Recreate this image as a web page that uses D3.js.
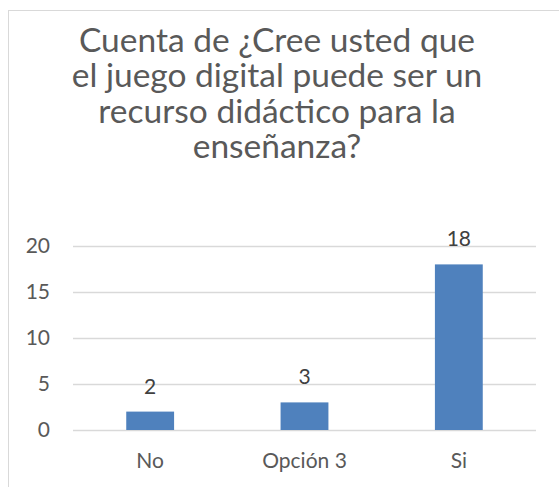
<!DOCTYPE html>
<html>
<head>
<meta charset="utf-8">
<script src="https://cdn.jsdelivr.net/npm/d3@7"></script>
<style>
  body { margin: 0; background: #fff; }
  text { font-family: "Lato", "Open Sans", sans-serif; }
</style>
</head>
<body>
<div id="chart"></div>
<script>
const categories = ["No", "Opción 3", "Si"];
const counts = [2, 3, 18];
const yTicks = [0, 5, 10, 15, 20];
const titleLines = [
  "Cuenta de ¿Cree usted que",
  "el juego digital puede ser un",
  "recurso didáctico para la",
  "enseñanza?"
];

const W = 559, H = 487;
const margin = { top: 246, right: 23, bottom: 57, left: 73 };
const width = W - margin.left - margin.right;
const height = H - margin.top - margin.bottom;

const svg = d3.select("#chart")
  .append("svg")
  .attr("width", W)
  .attr("height", H);

// chart frame (cut off at right and bottom like the source)
svg.append("rect")
  .attr("x", 8.5)
  .attr("y", 10.5)
  .attr("width", 700)
  .attr("height", 700)
  .attr("fill", "#fff")
  .attr("stroke", "#d9d9d9");

// title
svg.append("text")
  .attr("x", 277)
  .attr("y", 52)
  .attr("text-anchor", "middle")
  .attr("fill", "#595959")
  .style("font-size", "33.5px")
  .selectAll("tspan")
  .data(titleLines)
  .join("tspan")
  .attr("x", 277)
  .attr("dy", (d, i) => i === 0 ? 0 : 35.3)
  .text(d => d);

const g = svg.append("g")
  .attr("transform", `translate(${margin.left},${margin.top})`);

const x = d3.scaleBand()
  .domain(categories)
  .range([0, width])
  .paddingInner(0.69)
  .paddingOuter(0.345);

const y = d3.scaleLinear()
  .domain([0, 20])
  .range([height, 0]);

// gridlines
g.append("g")
  .call(d3.axisLeft(y).tickValues(yTicks).tickSize(-width).tickFormat(""))
  .call(a => a.select(".domain").remove())
  .call(a => a.selectAll("line").attr("stroke", "#d9d9d9").attr("stroke-width", 1.5));

// y labels
g.append("g")
  .call(d3.axisLeft(y).tickValues(yTicks).tickSize(0).tickPadding(23))
  .call(a => a.select(".domain").remove())
  .call(a => a.selectAll("text")
    .attr("fill", "#595959")
    .style("font-size", "21px")
    .style("font-family", "Lato, sans-serif"));

// bars
g.selectAll("rect.bar")
  .data(categories)
  .join("rect")
  .attr("class", "bar")
  .attr("x", d => x(d))
  .attr("y", (d, i) => y(counts[i]))
  .attr("width", x.bandwidth())
  .attr("height", (d, i) => height - y(counts[i]))
  .attr("fill", "#4f81bd");

// data labels
g.selectAll("text.val")
  .data(categories)
  .join("text")
  .attr("class", "val")
  .attr("x", d => x(d) + x.bandwidth() / 2)
  .attr("y", (d, i) => y(counts[i]) - 18)
  .attr("text-anchor", "middle")
  .attr("fill", "#404040")
  .style("font-size", "21px")
  .text((d, i) => counts[i]);

// x labels
g.append("g")
  .attr("transform", `translate(0,${height})`)
  .call(d3.axisBottom(x).tickSize(0).tickPadding(23))
  .call(a => a.select(".domain").remove())
  .call(a => a.selectAll("text")
    .attr("fill", "#595959")
    .style("font-size", "21px")
    .style("font-family", "Lato, sans-serif"));
</script>
</body>
</html>
